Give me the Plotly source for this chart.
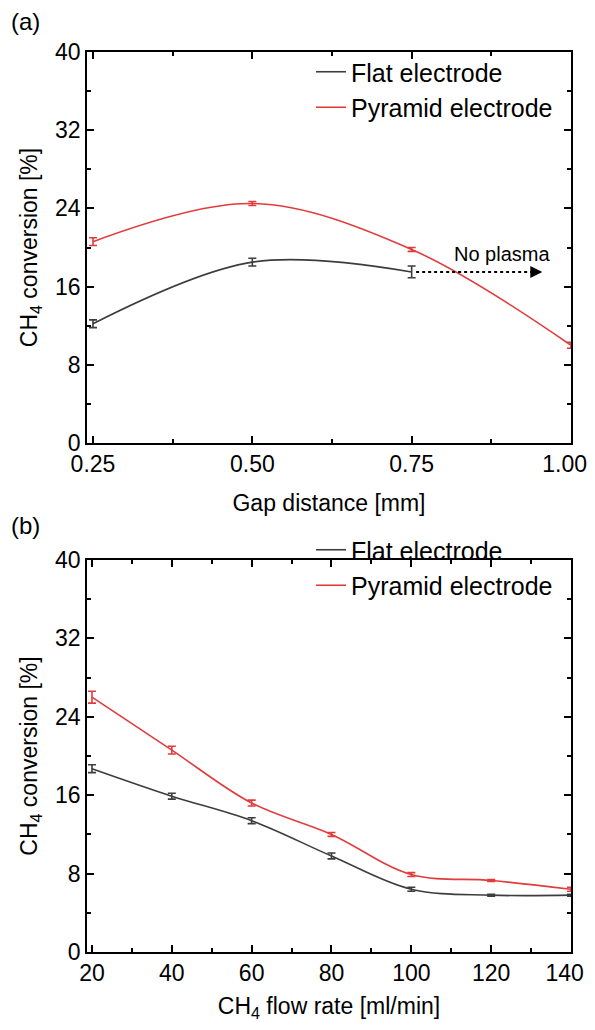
import plotly.graph_objects as go

# ---- data: panel (a) ----
gap = [0.25, 0.50, 0.75, 1.00]
flat_gap = [12.2, 18.5, 17.5]
flat_gap_err = [0.4, 0.4, 0.6]
pyr_gap = [20.6, 24.5, 19.8, 10.0]
pyr_gap_err = [0.4, 0.2, 0.2, 0.3]

# ---- data: panel (b) ----
flow = [20, 40, 60, 80, 100, 120, 140]
flat_flow = [18.7, 15.9, 13.4, 9.8, 6.4, 5.8, 5.8]
flat_flow_err = [0.4, 0.3, 0.3, 0.3, 0.2, 0.1, 0.1]
pyr_flow = [26.0, 20.6, 15.2, 12.0, 7.9, 7.3, 6.4]
pyr_flow_err = [0.6, 0.4, 0.3, 0.2, 0.2, 0.1, 0.2]

y_ticks = [0, 8, 16, 24, 32, 40]
gap_ticks = [0.25, 0.50, 0.75, 1.00]
gap_ticklabels = ["0.25", "0.50", "0.75", "1.00"]
flow_ticks = [20, 40, 60, 80, 100, 120, 140]
flow_ticklabels = ["20", "40", "60", "80", "100", "120", "140"]

FLAT = "#3d3d3d"
PYR = "#e23b3b"
FONT = "Liberation Sans, Arial, sans-serif"

# figure sits inside the page's default 8px body margin; sized so the
# page fits the window exactly (no scrollbars)
W, H = 579, 1014
PAD = "\u00a0\u00a0"   # keeps the right-most tick label inside the page

def px(x):
    return (x - 8) / W

def py(y):
    return 1 - (y - 8) / H

fig = go.Figure()

def add_series(x, y, err, color, name, xa, ya, legend):
    fig.add_trace(go.Scatter(
        x=x, y=y, mode="lines", name=name,
        line=dict(color=color, width=1.6, shape="spline", smoothing=1.0),
        error_y=dict(type="data", array=err, visible=True, color=color,
                     thickness=1.6, width=4),
        xaxis=xa, yaxis=ya, legend=legend, showlegend=True))

add_series(gap[:3], flat_gap, flat_gap_err, FLAT, "Flat electrode", "x", "y", "legend")
add_series(gap, pyr_gap, pyr_gap_err, PYR, "Pyramid electrode", "x", "y", "legend")
add_series(flow, flat_flow, flat_flow_err, FLAT, "Flat electrode", "x2", "y2", "legend2")
add_series(flow, pyr_flow, pyr_flow_err, PYR, "Pyramid electrode", "x2", "y2", "legend2")

# "No plasma" dotted arrow
arrow_x = [0.757, 0.94]
arrow_y = [flat_gap[2], flat_gap[2]]
fig.add_trace(go.Scatter(x=arrow_x, y=arrow_y, mode="lines",
                         line=dict(color="black", width=2, dash="dot"),
                         showlegend=False, hoverinfo="skip", xaxis="x", yaxis="y"))
fig.add_annotation(x=0.955, y=flat_gap[2], ax=0.935, ay=flat_gap[2],
                   xref="x", yref="y", axref="x", ayref="y",
                   showarrow=True, arrowhead=2, arrowsize=1.2, arrowwidth=2,
                   arrowcolor="black", text="")
fig.add_annotation(x=0.892, y=19.3, xref="x", yref="y", text="No plasma",
                   showarrow=False, font=dict(size=20, color="black", family=FONT))

# panel labels
fig.add_annotation(x=px(9), y=py(22), xref="paper", yref="paper", text="(a)",
                   showarrow=False, xanchor="left", yanchor="middle",
                   font=dict(size=24, color="black", family=FONT))
fig.add_annotation(x=px(9), y=py(525), xref="paper", yref="paper", text="(b)",
                   showarrow=False, xanchor="left", yanchor="middle",
                   font=dict(size=24, color="black", family=FONT))

axis_common = dict(showline=True, linecolor="black", linewidth=1.5, mirror="ticks",
                   ticks="inside", ticklen=7, tickwidth=1.5, tickcolor="black",
                   showgrid=False, zeroline=False, automargin=False,
                   ticklabeloverflow="allow",
                   tickfont=dict(size=23, color="black", family=FONT),
                   title_font=dict(size=23, color="black", family=FONT))

gap_text = gap_ticklabels[:-1] + [gap_ticklabels[-1] + PAD]
flow_text = flow_ticklabels[:-1] + [flow_ticklabels[-1] + PAD]

xdom = [px(87), px(571)]
fig.update_layout(
    width=W, height=H,
    margin=dict(l=0, r=0, t=0, b=0, autoexpand=False),
    paper_bgcolor="white", plot_bgcolor="white",
    font=dict(family=FONT, color="black"),
    xaxis=dict(domain=xdom, anchor="y", range=[0.2406, 1.0],
               tickvals=gap_ticks, ticktext=gap_text,
               minor=dict(ticks="inside", ticklen=4, dtick=0.125, tick0=0.25, tickcolor="black", tickwidth=1.5),
               title=dict(text="Gap distance [mm]", standoff=19), **axis_common),
    yaxis=dict(domain=[py(443), py(52)], anchor="x", range=[0, 40],
               tickvals=y_ticks,
               minor=dict(ticks="inside", ticklen=4, dtick=4, tickcolor="black", tickwidth=1.5),
               title=dict(text="CH<sub>4</sub> conversion [%]", standoff=11), **axis_common),
    xaxis2=dict(domain=xdom, anchor="y2", range=[18.75, 140],
                tickvals=flow_ticks, ticktext=flow_text,
                minor=dict(ticks="inside", ticklen=4, dtick=10, tick0=20, tickcolor="black", tickwidth=1.5),
                title=dict(text="CH<sub>4</sub> flow rate [ml/min]", standoff=19), **axis_common),
    yaxis2=dict(domain=[py(952), py(560)], anchor="x2", range=[0, 40],
                tickvals=y_ticks,
                minor=dict(ticks="inside", ticklen=4, dtick=4, tickcolor="black", tickwidth=1.5),
                title=dict(text="CH<sub>4</sub> conversion [%]", standoff=11), **axis_common),
    legend=dict(x=px(311), y=py(49), xanchor="left", yanchor="top",
                bgcolor="rgba(0,0,0,0)", font=dict(size=25, color="black", family=FONT),
                tracegroupgap=0),
    legend2=dict(x=px(311), y=py(527), xanchor="left", yanchor="top",
                 bgcolor="rgba(0,0,0,0)", font=dict(size=25, color="black", family=FONT),
                 tracegroupgap=0),
)

fig.write_html("out.html")
